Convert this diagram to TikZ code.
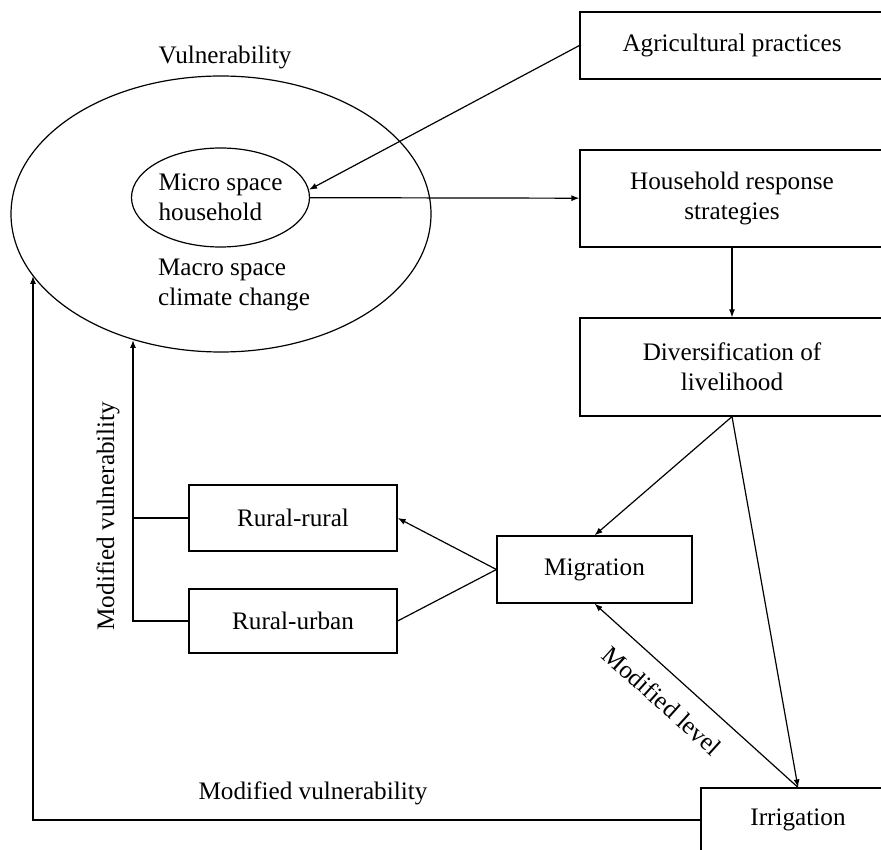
\documentclass[tikz,border=0pt]{standalone}
\usepackage{fontspec}
\setmainfont{Liberation Serif}
\usepackage{tikz}
\usetikzlibrary{arrows.meta,positioning,calc,shapes.geometric}
\newcommand{\figfont}{\fontsize{12.6}{15}\selectfont}
\tikzset{
  box/.style={draw=black,rectangle,align=center,inner sep=2pt,
    line width=0.6pt,font=\figfont},
  bubble/.style={draw=black,ellipse,inner sep=0pt,align=left,
    line width=0.6pt,font=\figfont},
  arrow/.style={-{Latex[length=4pt,width=3pt]},draw=black,line width=0.6pt},
  link/.style={draw=black,line width=0.6pt},
  labelstyle/.style={font=\figfont,inner sep=1.5pt,align=left}
}

\begin{document}
\begin{tikzpicture}[x=0.5pt,y=-0.5pt]
        \useasboundingbox (0,0) rectangle (881,849);
        % vulnerability space
        \node[bubble,minimum width=210pt,minimum height=138pt] (outer) at (221,214) {};
        \node[bubble,minimum width=89pt,minimum height=49.5pt] (micro) at (220.5,197.5) {Micro space\\household};
        \node[labelstyle] (vul) at (225,57) {Vulnerability};
        \node[labelstyle] (macro) at (234,285) {Macro space\\climate change};
        % right column
        \node[box,minimum width=152pt,minimum height=33.5pt] (agri) at (732,45.5) {Agricultural practices};
        \node[box,minimum width=152pt,minimum height=48.5pt] (house) at (732,198.5) {Household response\\strategies};
        \node[box,minimum width=152pt,minimum height=49pt] (div) at (732,367) {Diversification of\\livelihood};
        \node[box,minimum width=97.5pt,minimum height=33.5pt] (mig) at (594.5,569.5) {Migration};
        \node[box,minimum width=97pt,minimum height=32pt] (irr) at (798,820) {Irrigation};
        % migration types
        \node[box,minimum width=104pt,minimum height=33pt] (rr) at (293,518) {Rural-rural};
        \node[box,minimum width=104pt,minimum height=32pt] (ru) at (293,621) {Rural-urban};
        \coordinate (vx) at (133,340);
        \coordinate (lx) at (33,276);
        \draw[arrow] (agri.west)--(micro.5);
        \draw[arrow] (micro)--(house);
        \draw[arrow] (house)--(div);
        \draw[arrow] (div.south)--(mig.north);
        \draw[arrow] (div.south)--(irr.north);
        \draw[arrow] (irr.north)--(mig.south)
          node[labelstyle,pos=0.58,sloped,below=7pt] (lvl) {Modified level};
        \draw[arrow] (mig.west)--(rr.east);
        \draw[link] (ru.east)--(mig.west);
        \draw[link] (rr.west)--(rr.west -| vx);
        \draw[arrow] (ru.west) -| (vx);
        \node[labelstyle,rotate=90] (mvside) at (108,516) {Modified vulnerability};
        \draw[arrow] (irr.west) -| (lx);
        \node[labelstyle] (mvbot) at (313,793) {Modified vulnerability};
      \end{tikzpicture}
\end{document}
